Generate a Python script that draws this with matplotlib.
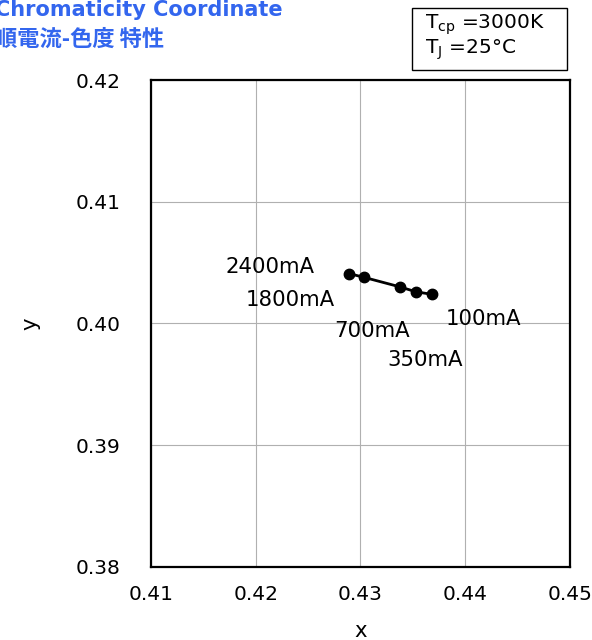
import matplotlib
matplotlib.use("Agg")
import matplotlib.pyplot as plt
from matplotlib.patches import Rectangle

# chromaticity shift vs forward current
currents = ["2400mA", "1800mA", "700mA", "350mA", "100mA"]
cie_x = [0.4289, 0.4303, 0.4338, 0.4353, 0.4368]
cie_y = [0.4041, 0.4038, 0.4030, 0.4026, 0.4024]
# label anchor points (data coords)
label_x = [0.4171, 0.4190, 0.4275, 0.4326, 0.4381]
label_y = [0.4046, 0.4019, 0.3994, 0.3970, 0.4004]

xticks = [0.41, 0.42, 0.43, 0.44, 0.45]
yticks = [0.38, 0.39, 0.40, 0.41, 0.42]

plt.rcParams['font.family'] = ['DejaVu Sans']

fig = plt.figure(figsize=(5.92, 6.4), dpi=100)
ax = fig.add_axes([0.2551, 0.1141, 0.7077, 0.7609])

ax.plot(cie_x, cie_y, color='black', lw=2, marker='o', ms=7.5, zorder=3)
for lab, lx, ly in zip(currents, label_x, label_y):
    ax.text(lx, ly, lab, fontsize=15.3, ha='left', va='center')

ax.set_xlim(0.41, 0.45)
ax.set_ylim(0.38, 0.42)
ax.set_xticks(xticks)
ax.set_yticks(yticks)
ax.set_xticklabels([f"{v:.2f}" for v in xticks])
ax.set_yticklabels([f"{v:.2f}" for v in yticks])
ax.tick_params(length=0, labelsize=14.5)
ax.tick_params(axis='x', pad=13)
ax.tick_params(axis='y', pad=22)
ax.grid(True, color='#b0b0b0', lw=0.8)
for s in ax.spines.values():
    s.set_linewidth(1.6)
    s.set_color('black')

ax.set_xlabel('x', fontsize=15.3)
ax.set_ylabel('y', fontsize=15.3)
ax.xaxis.set_label_coords(0.5, -0.11)
ax.yaxis.set_label_coords(-0.265, 0.5)

blue = '#3366ee'
fig.text(-0.008, 0.984, 'Chromaticity Coordinate', color=blue, fontsize=15,
         fontweight='bold', ha='left', va='center')
fig.text(-0.008, 0.938, '順電流-色度 特性', color=blue, fontsize=16,
         fontweight='bold', ha='left', va='center',
         family=['Noto Sans CJK JP', 'DejaVu Sans'])

fig.patches.append(Rectangle((0.696, 0.8906), 0.262, 0.0969, transform=fig.transFigure,
                             fc='white', ec='black', lw=1.0))
fig.text(0.718, 0.961, 'T$_{\\mathrm{cp}}$ =3000K', fontsize=14.5, ha='left', va='center')
fig.text(0.718, 0.922, 'T$_{\\mathrm{J}}$ =25°C', fontsize=14.5, ha='left', va='center')

fig.savefig('out.png', dpi=100)
